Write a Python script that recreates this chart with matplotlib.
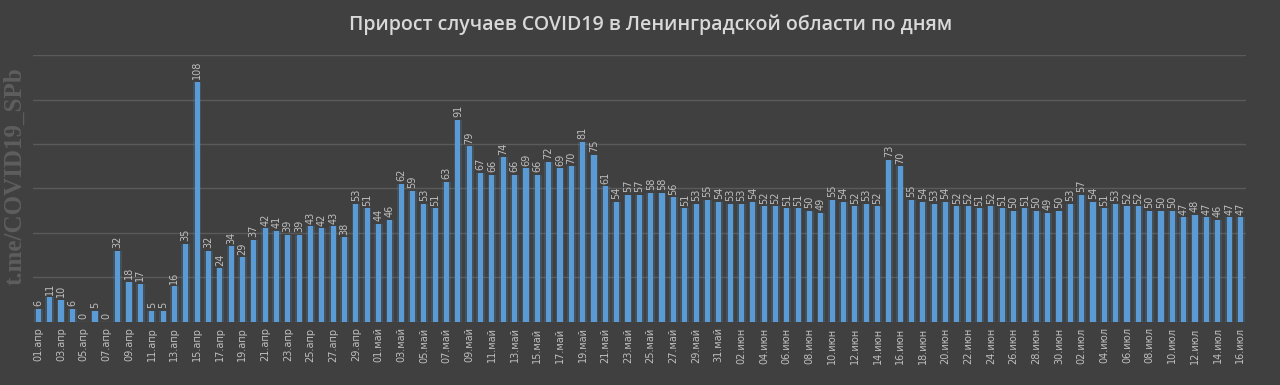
import matplotlib
matplotlib.use("Agg")
import matplotlib.pyplot as plt
import numpy as np

months = ["апр", "май", "июн", "июл"]
month_days = [30, 31, 30, 16]

apr = [6, 11, 10, 6, 0, 5, 0, 32, 18, 17, 5, 5, 16, 35, 108, 32, 24, 34, 29, 37,
       42, 41, 39, 39, 43, 42, 43, 38, 53, 51]
may = [44, 46, 62, 59, 53, 51, 63, 91, 79, 67, 66, 74, 66, 69, 66, 72, 69, 70, 81, 75,
       61, 54, 57, 57, 58, 58, 56, 51, 53, 55, 54]
jun = [53, 53, 54, 52, 52, 51, 51, 50, 49, 55, 54, 52, 53, 52, 73, 70, 55, 54, 53, 54,
       52, 52, 51, 52, 51, 50, 51, 50, 49, 50]
jul = [53, 57, 54, 51, 53, 52, 52, 50, 50, 50, 47, 48, 47, 46, 47, 47]

values = apr + may + jun + jul
labels = []
for m, n in zip(months, month_days):
    for d in range(1, n + 1):
        labels.append(f"{d:02d}.{m}")

title = "Прирост случаев COVID19 в Ленинградской области по дням"
watermark = "t.me/COVID19_SPb"

bg = "#404040"
bar_c = "#5b9bd5"
txt_c = "#bfbfbf"

fig = plt.figure(figsize=(12.8, 3.85), dpi=100, facecolor=bg)
ax = fig.add_axes([0.0255, 0.164, 0.948, 0.693])
ax.set_facecolor(bg)

x = np.arange(len(values))
# glow
ax.bar(x, values, width=0.75, color=bar_c, alpha=0.18, zorder=2)
ax.bar(x, values, width=0.45, color=bar_c, zorder=3)

for xi, v in zip(x, values):
    ax.text(xi, v + 1.2, str(v), rotation=90, ha="center", va="bottom",
            fontsize=7, color=txt_c, family="DejaVu Sans", zorder=4)

ax.set_xlim(-0.5, len(values) - 0.5)
ax.set_ylim(0, 120)
ax.set_yticks(np.arange(0, 121, 20))
ax.yaxis.grid(True, color="#5a5a5a", linewidth=1)
ax.set_axisbelow(True)
ax.tick_params(axis="y", left=False, labelleft=False)
ax.set_xticks(x[::2])
ax.set_xticklabels(labels[::2], rotation=90, fontsize=7, color=txt_c)
ax.tick_params(axis="x", length=0, pad=4)
for s in ax.spines.values():
    s.set_visible(False)

fig.text(0.508, 0.935, title, ha="center", va="center", fontsize=14,
         color="#d9d9d9", family="Open Sans", fontweight="semibold")
fig.text(0.012, 0.543, watermark, rotation=90, ha="center", va="center",
         fontsize=18, color="#5e5e5e", family="Liberation Serif", fontweight="bold")

fig.savefig("out.png", dpi=100, facecolor=bg)
